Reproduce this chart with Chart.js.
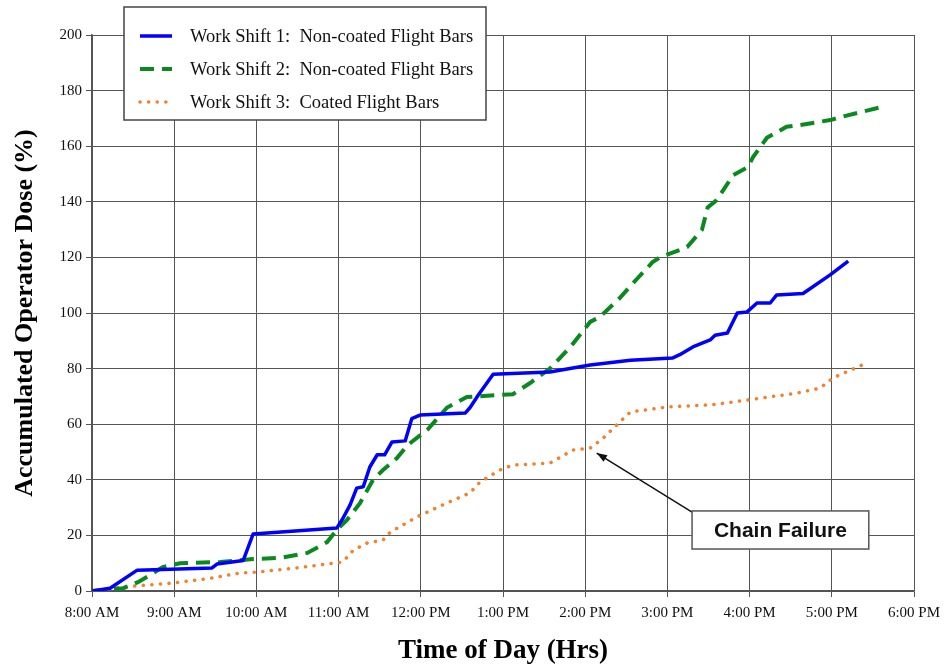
<!DOCTYPE html>
<html>
<head>
<meta charset="utf-8">
<script src="https://cdn.jsdelivr.net/npm/chart.js@4.4.1/dist/chart.umd.min.js"></script>
<style>
  html, body { margin: 0; padding: 0; background: #fff; }
</style>
</head>
<body>
<canvas id="doseChart" width="946" height="669"></canvas>
<script>
// time of day in decimal hours (8 = 8:00 AM), dose in %
const shift1Hours = [8.00, 8.22, 8.55, 9.46, 9.52, 9.84, 9.96, 10.98, 11.05, 11.14, 11.22, 11.30, 11.38, 11.47, 11.56, 11.65, 11.81, 11.89, 11.99, 12.54, 12.60, 12.70, 12.88, 13.57, 14.06, 14.55, 15.06, 15.15, 15.31, 15.52, 15.58, 15.73, 15.85, 15.97, 16.09, 16.25, 16.33, 16.65, 16.98, 17.20]
const shift1Dose = [0, 1, 7.5, 8.3, 9.7, 11, 20.5, 22.7, 26, 31, 37, 37.5, 44.6, 49, 49, 53.6, 54, 62, 63.3, 64, 66, 70.5, 78, 78.8, 81.3, 83, 83.8, 85, 87.8, 90.3, 92, 92.8, 100, 100.4, 103.6, 103.6, 106.5, 107, 113.7, 118.7]

const shift2Hours = [8.00, 8.38, 8.56, 8.71, 8.86, 9.07, 9.56, 9.96, 10.29, 10.62, 10.86, 10.98, 11.10, 11.26, 11.42, 11.54, 11.71, 11.84, 12.08, 12.32, 12.56, 12.96, 13.12, 13.33, 13.57, 13.82, 14.06, 14.18, 14.42, 14.64, 14.82, 14.91, 15.24, 15.42, 15.49, 15.60, 15.80, 15.98, 16.04, 16.21, 16.45, 16.61, 16.98, 17.18, 17.59]
const shift2Dose = [0, 1, 3.2, 5.8, 8.6, 10, 10.4, 11.5, 11.9, 13.7, 17.6, 22, 25.5, 31.6, 40, 43.5, 47.8, 52.5, 58, 66, 69.8, 70.5, 70.8, 74.8, 80, 87.8, 96.8, 98.6, 105.4, 112.6, 118.3, 120, 123.7, 129.9, 138, 140.6, 149.6, 152.5, 156, 163, 167, 167.6, 169.4, 171, 174]

const shift3Hours = [8.00, 8.26, 8.52, 8.99, 9.47, 9.80, 10.01, 10.49, 10.93, 11.05, 11.18, 11.35, 11.54, 11.63, 11.95, 12.32, 12.60, 12.72, 12.96, 13.12, 13.57, 13.85, 14.06, 14.22, 14.42, 14.55, 15.00, 15.55, 15.97, 16.58, 16.86, 17.01, 17.40]
const shift3Dose = [0, 1, 1.8, 2.9, 4.7, 6.5, 6.8, 8.3, 10, 10.4, 14.7, 17.3, 18.3, 21.2, 26.6, 31.7, 35.3, 39.2, 43.5, 45.3, 46, 50.7, 51.4, 55, 60.8, 64.4, 66.2, 67, 68.7, 71.2, 73, 76.6, 81.7]

const seriesLabels = [
    'Work Shift 1:  Non-coated Flight Bars',
    'Work Shift 2:  Non-coated Flight Bars',
    'Work Shift 3:  Coated Flight Bars'
]
const calloutText = 'Chain Failure'

function toPoints(hours, dose) {
    return hours.map((h, i) => ({ x: h, y: dose[i] }))
}

function hourLabel(v) {
    const h = Math.round(v)
    const suffix = h < 12 ? 'AM' : 'PM'
    const h12 = h > 12 ? h - 12 : h
    return h12 + ':00 ' + suffix
}

// legend box drawn inside/above the plot like the original
const boxLegend = {
    id: 'boxLegend',
    afterDraw(chart) {
        const ctx = chart.ctx
        const left = 124, top = 7, w = 362, h = 113
        ctx.save()
        ctx.fillStyle = '#fff'
        ctx.fillRect(left, top, w, h)
        ctx.strokeStyle = '#444'
        ctx.lineWidth = 1.5
        ctx.strokeRect(left, top, w, h)
        ctx.font = '18.5px "Liberation Serif"'
        ctx.textBaseline = 'middle'
        chart.data.datasets.forEach((ds, i) => {
            const y = 36 + i * 33
            ctx.strokeStyle = ds.borderColor
            ctx.lineWidth = ds.borderWidth
            ctx.lineCap = ds.borderCapStyle || 'butt'
            ctx.setLineDash(ds.borderDash || [])
            ctx.beginPath()
            ctx.moveTo(140, y)
            ctx.lineTo(172, y)
            ctx.stroke()
            ctx.setLineDash([])
            ctx.fillStyle = '#111'
            ctx.fillText(ds.label, 190, y + 1)
        })
        ctx.restore()
    }
}

// "Chain Failure" callout with arrow, placed in data coordinates
const chainCallout = {
    id: 'chainCallout',
    afterDatasetsDraw(chart) {
        const { ctx, scales: { x, y } } = chart
        const headX = x.getPixelForValue(14.14), headY = y.getPixelForValue(49.6)
        const tailX = x.getPixelForValue(15.30), tailY = y.getPixelForValue(28.4)
        const bx1 = x.getPixelForValue(15.30), bx2 = x.getPixelForValue(17.45)
        const by1 = y.getPixelForValue(28.8), by2 = y.getPixelForValue(15.1)
        ctx.save()
        ctx.strokeStyle = '#111'
        ctx.lineWidth = 1.5
        ctx.beginPath()
        ctx.moveTo(tailX, tailY)
        ctx.lineTo(headX, headY)
        ctx.stroke()
        const ang = Math.atan2(headY - tailY, headX - tailX)
        ctx.fillStyle = '#111'
        ctx.beginPath()
        ctx.moveTo(headX, headY)
        ctx.lineTo(headX - 11 * Math.cos(ang - 0.35), headY - 11 * Math.sin(ang - 0.35))
        ctx.lineTo(headX - 11 * Math.cos(ang + 0.35), headY - 11 * Math.sin(ang + 0.35))
        ctx.closePath()
        ctx.fill()
        ctx.fillStyle = '#fff'
        ctx.fillRect(bx1, by1, bx2 - bx1, by2 - by1)
        ctx.strokeStyle = '#555'
        ctx.lineWidth = 1.5
        ctx.strokeRect(bx1, by1, bx2 - bx1, by2 - by1)
        ctx.fillStyle = '#111'
        ctx.font = 'bold 21px "Liberation Sans"'
        ctx.textAlign = 'center'
        ctx.textBaseline = 'middle'
        ctx.fillText(calloutText, (bx1 + bx2) / 2, (by1 + by2) / 2 + 1)
        ctx.restore()
    }
}

const tickFont = { family: 'Liberation Serif', size: 15 }

const chart = new Chart(document.getElementById('doseChart').getContext('2d'), {
    type: 'line',
    data: {
        datasets: [{
            label: seriesLabels[0],
            data: toPoints(shift1Hours, shift1Dose),
            borderColor: '#0000ff',
            borderWidth: 3.5,
            borderCapStyle: 'butt',
            borderJoinStyle: 'round'
        }, {
            label: seriesLabels[1],
            data: toPoints(shift2Hours, shift2Dose),
            borderColor: '#0a8a1e',
            borderWidth: 4,
            borderDash: [14, 8],
            borderCapStyle: 'butt'
        }, {
            label: seriesLabels[2],
            data: toPoints(shift3Hours, shift3Dose),
            borderColor: '#f57f2a',
            borderWidth: 3.5,
            borderDash: [0.1, 8.5],
            borderCapStyle: 'round'
        }]
    },
    options: {
        responsive: false,
        animation: false,
        devicePixelRatio: 1,
        elements: { point: { radius: 0 }, line: { tension: 0, fill: false } },
        layout: { padding: { top: 35, right: 32, left: 0, bottom: 0 } },
        plugins: { legend: { display: false }, tooltip: { enabled: false } },
        scales: {
            x: {
                type: 'linear', min: 8, max: 18,
                ticks: { stepSize: 1, callback: hourLabel, font: tickFont, color: '#111', maxRotation: 0, padding: 7 },
                grid: { color: '#555', lineWidth: 1, tickLength: 6 },
                border: { color: '#555', width: 1.5 },
                title: { display: true, text: 'Time of Day (Hrs)', font: { family: 'Liberation Serif', size: 27, weight: 'bold' }, color: '#000', padding: { top: 4, bottom: 2 } },
                afterFit: s => { s.height = 78; s.paddingLeft = 0; s.paddingRight = 0 }
            },
            y: {
                min: 0, max: 200,
                ticks: { stepSize: 20, font: tickFont, color: '#111', padding: 4 },
                grid: { color: '#555', lineWidth: 1, tickLength: 6 },
                border: { color: '#555', width: 1.5 },
                title: { display: true, text: 'Accumulated Operator Dose (%)', font: { family: 'Liberation Serif', size: 26, weight: 'bold' }, color: '#000', padding: { top: 10, bottom: 4 } },
                afterFit: s => { s.width = 92 }
            }
        }
    },
    plugins: [chainCallout, boxLegend]
})
</script>
</body>
</html>
